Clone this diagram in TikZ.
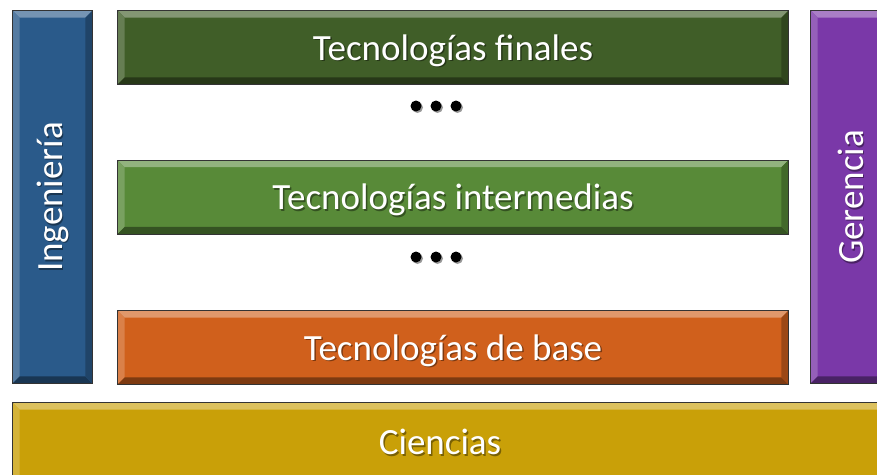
\documentclass[tikz,border=0pt]{standalone}
\usepackage{fontspec}
\setmainfont{Carlito}
\definecolor{azul}{HTML}{2A5A8A}
\definecolor{verdeosc}{HTML}{405E28}
\definecolor{verdecla}{HTML}{588A38}
\definecolor{naranja}{HTML}{D0601C}
\definecolor{oro}{HTML}{C9A008}
\definecolor{morado}{HTML}{7A38A8}
\tikzset{
  capa/.style={draw=black!80, line width=0.8pt, inner sep=0pt},
  texto/.style={text=white, font=\fontsize{37}{42}\selectfont},
  sombra/.style={text=black, opacity=0.4, font=\fontsize{37}{42}\selectfont},
  punto/.style={circle, fill=black, inner sep=0pt, minimum size=11pt},
}
\begin{document}
\begin{tikzpicture}[x=1pt,y=-1pt]
  \useasboundingbox (0,0) rectangle (877,474);

  % capas
  \node[capa, fill=azul, minimum width=79pt, minimum height=372pt] (ing) at (52.5,197) {};
  \node[capa, fill=morado, minimum width=79pt, minimum height=372pt] (ger) at (850.5,197) {};
  \node[capa, fill=verdeosc, minimum width=670pt, minimum height=73pt] (fin) at (453,47.5) {};
  \node[capa, fill=verdecla, minimum width=670pt, minimum height=73pt] (int) at (453,197) {};
  \node[capa, fill=naranja, minimum width=670pt, minimum height=73pt] (bas) at (453,347.5) {};
  \node[capa, fill=oro, minimum width=874pt, minimum height=80pt] (cie) at (450,443) {};

  % biseles
  \foreach \n/\c in {ing/azul, ger/morado, fin/verdeosc, int/verdecla, bas/naranja, cie/oro} {
    \fill[\c!65!white] (\n.north west) -- (\n.north east) -- ([shift={(-7pt,-7pt)}]\n.north east)
      -- ([shift={(7pt,-7pt)}]\n.north west) -- cycle;
    \fill[\c!80!white] (\n.north west) -- ([shift={(7pt,-7pt)}]\n.north west)
      -- ([shift={(7pt,7pt)}]\n.south west) -- (\n.south west) -- cycle;
    \fill[\c!60!black] (\n.south west) -- ([shift={(7pt,7pt)}]\n.south west)
      -- ([shift={(-7pt,7pt)}]\n.south east) -- (\n.south east) -- cycle;
    \fill[\c!75!black] (\n.north east) -- ([shift={(-7pt,-7pt)}]\n.north east)
      -- ([shift={(-7pt,7pt)}]\n.south east) -- (\n.south east) -- cycle;
    \draw[black!80, line width=0.8pt] (\n.north west) rectangle (\n.south east);
  }

  % textos
  \node[sombra, rotate=90] (ing-s) at ([shift={(1.5pt,-1.5pt)}]ing.center) {Ingeniería};
  \node[texto, rotate=90] (ing-t) at (ing.center) {Ingeniería};
  \node[sombra, rotate=90] (ger-s) at ([shift={(1.5pt,-1.5pt)}]ger.center) {Gerencia};
  \node[texto, rotate=90] (ger-t) at (ger.center) {Gerencia};
  \node[sombra] (fin-s) at ([shift={(1.5pt,-4.5pt)}]fin.center) {Tecnologías finales};
  \node[texto] (fin-t) at ([yshift=-3pt]fin.center) {Tecnologías finales};
  \node[sombra] (int-s) at ([shift={(1.5pt,-4.5pt)}]int.center) {Tecnologías intermedias};
  \node[texto] (int-t) at ([yshift=-3pt]int.center) {Tecnologías intermedias};
  \node[sombra] (bas-s) at ([shift={(1.5pt,-4.5pt)}]bas.center) {Tecnologías de base};
  \node[texto] (bas-t) at ([yshift=-3pt]bas.center) {Tecnologías de base};
  \node[sombra] (cie-s) at (441.5,443.5) {Ciencias};
  \node[texto] (cie-t) at (440,442) {Ciencias};

  % puntos suspensivos
  \foreach \y [count=\i] in {106,257} {
    \foreach \x [count=\j] in {416,436,456} {
      \node[punto, fill=black!40] (s\i\j) at (\x+1.5,\y+1.5) {};
      \node[punto] (p\i\j) at (\x,\y) {};
    }
  }
\end{tikzpicture}
\end{document}
